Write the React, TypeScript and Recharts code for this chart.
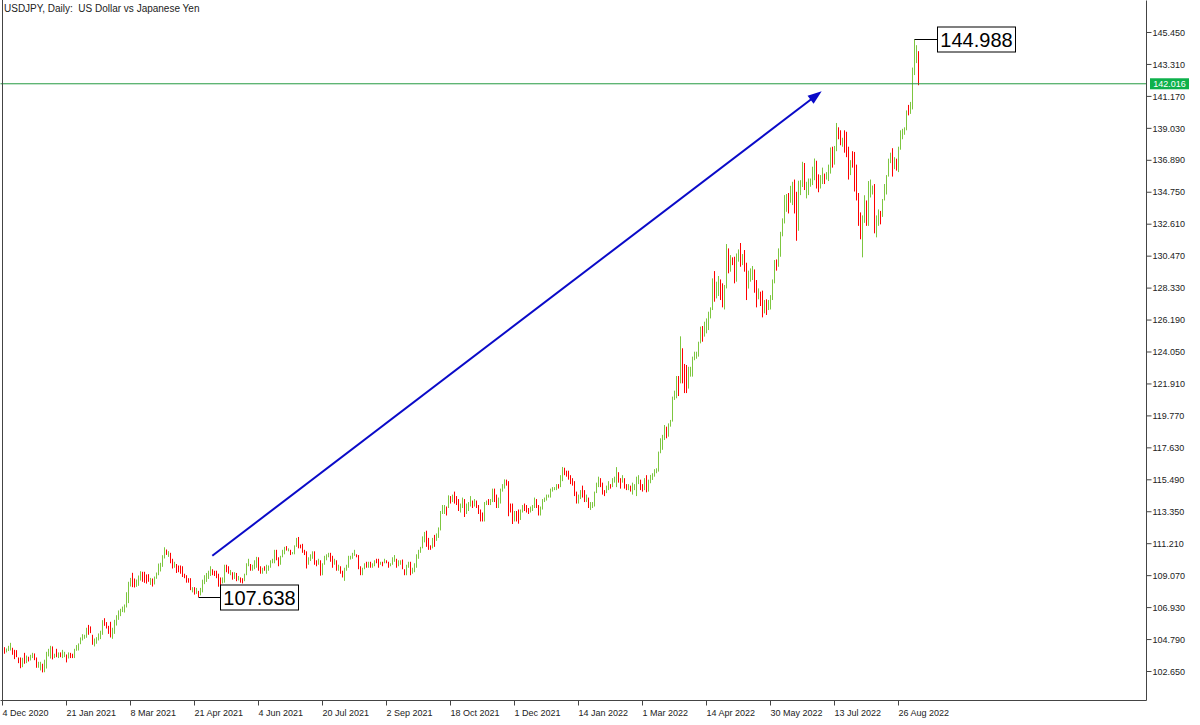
import React from "react";
import {
  ComposedChart,
  Bar,
  Cell,
  XAxis,
  YAxis,
  ReferenceLine,
  ReferenceDot,
} from "recharts";

// one daily bar: [low, high, 1 = closed up / 0 = closed down]
type Day = [number, number, number];

const dec2020: Day[] = [
  [103.82, 104.25, 1], [103.84, 104.28, 0], [103.93, 104.19, 1], [104.02, 104.37, 1], [104.06, 104.57, 1],
  [103.77, 104.24, 0], [103.48, 104.1, 0], [103.61, 104.08, 0], [103.21, 103.59, 0], [102.87, 103.59, 0],
  [102.94, 103.57, 1], [103.17, 103.9, 0], [103.21, 103.72, 1], [103.32, 103.64, 0], [103.39, 103.77, 1],
  [103.55, 103.9, 1], [103.41, 103.86, 0], [102.9, 103.59, 0], [102.9, 103.3, 1],
];
const jan2021: Day[] = [
  [102.72, 103.3, 1], [102.59, 103.17, 0], [102.6, 103.44, 1], [102.85, 103.97, 1], [103.66, 104.17, 1],
  [103.52, 104.37, 1], [103.46, 104.33, 0], [103.55, 103.84, 1], [103.61, 104.17, 0], [103.55, 103.93, 1],
  [103.61, 103.93, 0], [103.55, 104.1, 1], [103.61, 103.97, 1], [103.26, 103.79, 0], [103.52, 103.93, 1],
  [103.55, 103.9, 0], [103.55, 103.84, 0], [103.55, 104.17, 1], [104.04, 104.42, 1], [104.06, 104.53, 1],
];
const feb2021: Day[] = [
  [104.48, 104.93, 1], [104.73, 105.15, 1], [104.84, 105.11, 1], [104.91, 105.58, 1], [105.11, 105.77, 0],
  [105.22, 105.67, 0], [104.44, 105.11, 0], [104.33, 104.86, 1], [104.51, 104.95, 1], [104.73, 105.2, 1],
  [104.82, 105.38, 1], [105.11, 106.09, 1], [105.71, 106.22, 0], [105.53, 105.96, 0], [105.17, 105.71, 0],
  [104.93, 105.98, 0], [104.84, 105.58, 1], [105.17, 106.11, 1], [105.73, 106.42, 1], [106.11, 106.74, 1],
];
const mar2021: Day[] = [
  [106.36, 106.85, 1], [106.63, 107.0, 1], [106.6, 107.14, 1], [106.94, 107.96, 1], [107.23, 108.66, 1],
  [108.34, 108.92, 1], [108.3, 109.26, 0], [108.28, 108.88, 0], [108.32, 108.81, 1], [108.39, 109.08, 1],
  [108.74, 109.37, 1], [108.66, 109.33, 0], [108.59, 109.33, 0], [108.54, 109.15, 0], [108.66, 109.17, 0],
  [108.45, 108.92, 1], [108.34, 108.88, 0], [108.48, 109.01, 1], [108.86, 109.28, 1], [109.1, 109.88, 1],
  [109.35, 109.93, 1], [109.66, 110.44, 1], [110.22, 110.97, 1],
];
const apr2021: Day[] = [
  [110.46, 110.82, 0], [110.33, 110.71, 1], [109.9, 110.6, 0], [109.55, 110.2, 0], [109.6, 110.0, 1],
  [109.25, 109.85, 0], [109.3, 109.75, 0], [109.2, 109.75, 0], [108.98, 109.7, 0], [108.9, 109.2, 0],
  [108.6, 109.1, 0], [108.6, 108.9, 0], [108.1, 108.9, 0], [107.95, 108.3, 1], [107.8, 108.3, 0],
  [107.85, 108.25, 1], [107.638, 108.05, 0], [107.75, 108.25, 1], [107.95, 108.8, 1], [108.5, 109.1, 1],
  [108.65, 109.25, 1], [108.85, 109.4, 1],
];
const may2021: Day[] = [
  [109.05, 109.7, 1], [109.1, 109.5, 0], [109.05, 109.4, 0], [108.9, 109.4, 0], [108.33, 109.2, 0],
  [108.35, 108.95, 0], [108.55, 108.95, 1], [108.6, 109.8, 1], [109.3, 109.8, 0], [109.2, 109.7, 0],
  [109.1, 109.45, 1], [108.8, 109.3, 0], [108.85, 109.3, 1], [108.7, 109.25, 0], [108.75, 109.05, 1],
  [108.6, 108.95, 0], [108.55, 108.9, 0], [108.7, 109.2, 1], [109.1, 109.9, 1], [109.7, 110.2, 1],
  [109.4, 109.85, 0],
];
const jun2021: Day[] = [
  [109.4, 109.8, 1], [109.5, 110.1, 1], [109.6, 110.33, 1], [109.4, 110.3, 0], [109.2, 109.7, 0],
  [109.2, 109.6, 1], [109.4, 109.7, 0], [109.2, 109.8, 1], [109.4, 109.75, 1], [109.6, 110.1, 1],
  [109.9, 110.2, 1], [109.9, 110.8, 1], [110.1, 110.8, 0], [109.7, 110.3, 0], [109.8, 110.4, 1],
  [110.3, 110.8, 1], [110.5, 111.0, 1], [110.75, 111.05, 0], [110.7, 110.9, 1], [110.45, 110.8, 0],
  [110.5, 110.65, 1], [110.5, 111.1, 1],
];
const jul2021: Day[] = [
  [111.0, 111.6, 1], [110.9, 111.66, 0], [110.9, 111.15, 0], [110.6, 111.2, 0], [110.45, 110.8, 0],
  [109.55, 110.7, 0], [109.8, 110.3, 1], [110.05, 110.5, 1], [110.2, 110.7, 1], [109.8, 110.7, 0],
  [109.7, 110.1, 0], [109.8, 110.2, 1], [109.07, 110.1, 0], [109.1, 109.9, 1], [109.8, 110.4, 1],
  [110.1, 110.5, 1], [110.3, 110.6, 1], [110.0, 110.6, 0], [109.6, 110.4, 0], [109.8, 110.2, 1],
  [109.4, 110.1, 0], [109.4, 109.8, 1],
];
const aug2021: Day[] = [
  [109.2, 109.7, 0], [108.95, 109.4, 0], [108.72, 109.6, 1], [109.4, 109.8, 1], [109.6, 110.4, 1],
  [110.15, 110.4, 1], [110.2, 110.6, 1], [110.4, 110.8, 1], [110.3, 110.5, 0], [109.5, 110.45, 0],
  [109.1, 109.7, 0], [109.1, 109.6, 1], [109.5, 109.9, 1], [109.6, 110.0, 0], [109.6, 110.0, 1],
  [109.6, 110.0, 0], [109.6, 109.9, 1], [109.7, 110.1, 1], [109.9, 110.2, 0], [109.6, 110.2, 0],
  [109.8, 110.0, 1], [109.7, 110.0, 0],
];
const sep2021: Day[] = [
  [109.9, 110.2, 1], [109.9, 110.1, 0], [109.6, 110.0, 0], [109.7, 109.9, 1], [109.8, 110.3, 1],
  [110.0, 110.45, 1], [109.6, 110.2, 0], [109.7, 110.1, 1], [109.8, 110.1, 1], [109.5, 110.15, 0],
  [109.1, 109.5, 0], [109.1, 109.8, 1], [109.6, 110.0, 1], [109.1, 110.0, 0], [109.2, 109.6, 1],
  [109.3, 109.9, 1], [109.6, 110.5, 1], [110.2, 110.8, 1], [110.6, 111.0, 1], [110.9, 111.7, 1],
  [111.3, 112.0, 1], [111.0, 112.08, 0],
];
const oct2021: Day[] = [
  [110.8, 111.6, 0], [110.8, 111.1, 0], [110.9, 111.6, 1], [111.0, 111.8, 0], [111.4, 111.9, 1],
  [111.6, 112.3, 1], [112.1, 113.4, 1], [113.2, 113.8, 1], [113.2, 113.8, 1], [113.1, 113.7, 0],
  [113.6, 114.45, 1], [113.9, 114.4, 0], [114.0, 114.5, 1], [113.9, 114.7, 0], [113.8, 114.4, 0],
  [113.4, 114.2, 0], [113.3, 113.9, 1], [113.6, 114.3, 1], [113.0, 114.2, 0], [113.2, 113.9, 1],
  [113.4, 114.0, 1],
];
const nov2021: Day[] = [
  [113.7, 114.4, 1], [113.6, 114.1, 0], [113.7, 114.2, 1], [113.6, 114.1, 0], [113.2, 113.8, 0],
  [112.7, 113.5, 0], [112.7, 113.3, 0], [112.7, 114.0, 1], [113.8, 114.1, 1], [113.8, 114.2, 0],
  [113.8, 114.2, 1], [114.0, 114.9, 1], [114.0, 114.9, 0], [113.6, 114.5, 0], [113.6, 114.3, 1],
  [113.9, 114.9, 1], [114.7, 115.2, 1], [114.9, 115.52, 1], [115.1, 115.5, 0], [113.05, 115.4, 0],
  [113.3, 113.9, 0], [112.53, 113.9, 0],
];
const dec2021: Day[] = [
  [112.7, 113.4, 1], [112.7, 113.4, 0], [112.55, 113.5, 0], [112.8, 113.5, 1], [113.3, 113.8, 1],
  [113.4, 113.9, 0], [113.3, 113.8, 0], [113.2, 113.6, 0], [113.3, 113.7, 1], [113.4, 113.8, 1],
  [113.6, 114.3, 1], [113.6, 114.2, 0], [113.1, 113.8, 0], [113.1, 113.7, 1], [113.5, 114.2, 1],
  [114.0, 114.3, 1], [114.1, 114.5, 1], [114.3, 114.5, 1], [114.3, 114.9, 1], [114.7, 115.0, 1],
  [114.8, 115.0, 1], [114.8, 115.2, 1], [114.9, 115.2, 0],
];
const jan2022: Day[] = [
  [115.0, 115.8, 1], [115.4, 116.35, 1], [115.8, 116.3, 0], [115.7, 116.1, 0], [115.5, 116.1, 0],
  [115.2, 115.8, 0], [115.1, 115.6, 0], [114.4, 115.4, 0], [113.9, 114.7, 0], [113.9, 114.5, 1],
  [114.2, 114.8, 1], [114.3, 115.1, 0], [114.0, 114.8, 0], [114.0, 114.5, 1], [113.6, 114.3, 0],
  [113.47, 114.0, 1], [113.6, 114.0, 1], [113.7, 114.7, 1], [114.6, 115.3, 1], [115.0, 115.7, 1],
  [115.0, 115.6, 0],
];
const feb2022: Day[] = [
  [114.5, 115.3, 0], [114.4, 114.8, 0], [114.6, 115.1, 1], [114.8, 115.4, 1], [114.9, 115.2, 0],
  [115.0, 115.6, 1], [115.3, 115.7, 1], [115.0, 116.34, 1], [115.3, 116.0, 0], [114.9, 115.6, 0],
  [115.3, 115.8, 1], [114.9, 115.6, 0], [114.8, 115.2, 0], [114.8, 115.2, 1], [114.7, 115.1, 0],
  [114.5, 115.3, 1], [114.8, 115.2, 1], [114.4, 115.7, 1], [115.2, 115.8, 1], [114.8, 115.5, 0],
];
const mar2022: Day[] = [
  [114.7, 115.2, 0], [114.8, 115.6, 1], [114.65, 115.8, 0], [114.7, 115.5, 1], [115.26, 115.82, 1],
  [115.48, 115.93, 1], [115.7, 116.2, 1], [115.93, 116.26, 1], [116.04, 117.38, 1], [117.27, 118.27, 1],
  [117.5, 118.5, 1], [118.16, 119.16, 1], [118.27, 119.05, 0], [118.38, 119.27, 1], [119.05, 119.5, 1],
  [119.39, 121.06, 1], [120.84, 121.46, 1], [120.95, 122.44, 1], [121.1, 122.44, 0], [121.95, 125.1, 1],
  [121.95, 124.3, 0], [121.3, 123.25, 0], [121.3, 123.18, 0],
];
const apr2022: Day[] = [
  [121.6, 123.06, 1], [122.4, 123.06, 1], [122.4, 123.74, 1], [123.5, 124.07, 1], [123.6, 124.07, 1],
  [123.74, 124.74, 1], [124.63, 125.75, 1], [124.74, 125.79, 0], [125.08, 126.08, 1], [125.3, 126.3, 1],
  [125.52, 126.75, 1], [126.3, 127.04, 1], [126.86, 128.98, 1], [127.42, 129.47, 0], [127.64, 128.76, 1],
  [127.8, 129.14, 1], [127.53, 128.91, 0], [127.04, 128.65, 0], [126.9, 128.54, 1], [128.31, 131.28, 1],
  [129.32, 130.99, 0],
];
const may2022: Day[] = [
  [129.43, 130.54, 1], [129.87, 130.39, 0], [128.65, 130.43, 0], [128.76, 130.65, 1], [130.1, 130.92, 1],
  [129.76, 131.35, 0], [129.87, 130.61, 1], [129.43, 130.88, 0], [127.53, 130.03, 0], [128.3, 129.5, 1],
  [128.76, 129.65, 1], [128.87, 129.81, 1], [128.02, 129.58, 0], [127.04, 128.87, 0], [127.58, 128.31, 1],
  [127.13, 128.09, 0], [126.37, 128.16, 0], [126.64, 127.53, 1], [126.53, 127.58, 0], [126.86, 127.53, 1],
  [126.9, 127.86, 1], [127.53, 128.91, 1],
];
const jun2022: Day[] = [
  [128.65, 130.21, 1], [129.5, 130.25, 0], [129.76, 130.99, 1], [130.43, 132.1, 1], [131.8, 133.0, 1],
  [132.66, 134.56, 1], [133.44, 134.63, 1], [133.33, 134.7, 0], [134.05, 135.18, 1], [133.89, 135.45, 1],
  [133.33, 135.6, 0], [131.5, 134.78, 0], [132.17, 135.52, 1], [134.56, 135.56, 1], [135.1, 136.79, 1],
  [134.9, 136.71, 0], [134.34, 135.45, 1], [134.56, 135.67, 1], [135.12, 135.67, 1], [135.23, 136.46, 1],
  [135.56, 137.01, 1], [135.0, 136.86, 0],
];
const jul2022: Day[] = [
  [134.75, 135.95, 0], [135.0, 135.9, 1], [135.3, 136.4, 1], [135.3, 136.0, 0], [135.6, 136.1, 1],
  [135.5, 136.6, 1], [136.0, 137.75, 1], [136.4, 137.8, 0], [136.6, 137.85, 1], [137.5, 139.39, 1],
  [138.3, 139.1, 0], [137.9, 138.9, 0], [137.8, 138.4, 1], [137.4, 138.9, 0], [137.1, 138.8, 0],
  [135.6, 137.8, 0], [135.9, 136.9, 1], [136.4, 137.5, 0], [134.8, 137.45, 0], [134.2, 136.6, 0],
  [132.5, 134.7, 0],
];
const aug2022: Day[] = [
  [131.6, 133.4, 0], [130.39, 133.2, 1], [132.7, 134.55, 1], [132.5, 134.2, 0], [132.5, 135.5, 1],
  [134.4, 135.6, 1], [134.6, 135.2, 1], [132.0, 135.3, 0], [131.73, 133.2, 1], [132.5, 133.6, 1],
  [132.6, 133.5, 0], [133.1, 134.3, 1], [134.2, 135.3, 1], [134.6, 135.9, 1], [135.8, 137.0, 1],
  [136.7, 137.4, 1], [135.8, 137.7, 0], [136.3, 137.1, 1], [136.2, 137.0, 0], [136.1, 137.8, 1],
  [137.6, 138.9, 1], [138.3, 139.0, 1], [138.6, 139.1, 1],
];
const sep2022: Day[] = [
  [138.9, 140.23, 1], [139.9, 140.6, 0], [140.0, 140.8, 1], [140.3, 143.1, 1], [142.6, 144.988, 1],
  [143.4, 144.6, 1], [141.92, 144.2, 0],
];

const months = [
  dec2020, jan2021, feb2021, mar2021, apr2021, may2021, jun2021, jul2021, aug2021, sep2021, oct2021,
  nov2021, dec2021, jan2022, feb2022, mar2022, apr2022, may2022, jun2022, jul2022, aug2022, sep2022,
];

const xTickIdx = [0, 32, 64, 96, 128, 160, 192, 224, 256, 288, 320, 352, 384, 416, 448];
const xTickLabels = [
  "4 Dec 2020", "21 Jan 2021", "8 Mar 2021", "21 Apr 2021", "4 Jun 2021", "20 Jul 2021", "2 Sep 2021",
  "18 Oct 2021", "1 Dec 2021", "14 Jan 2022", "1 Mar 2022", "14 Apr 2022", "30 May 2022", "13 Jul 2022",
  "26 Aug 2022",
];
const yTicks = [
  102.65, 104.79, 106.93, 109.07, 111.21, 113.35, 115.49, 117.63, 119.77, 121.91, 124.05, 126.19,
  128.33, 130.47, 132.61, 134.75, 136.89, 139.03, 141.17, 143.31, 145.45,
];

const lastPrice = 142.016;
const callouts = [
  { i: 98, price: 107.638 },
  { i: 456, price: 144.988 },
];
const arrowFrom = { i: 104.9, price: 110.4 };
const arrowTo = { i: 409.6, price: 141.52 };

const bars = months.flat().map((d, i) => ({ i, range: [d[0], d[1]], up: d[2] === 1 }));

const UP = "#7dc640";
const DOWN = "#ff0000";
const ARROW = "#0a0ac8";
const PRICE = "#259b42";
const TAG = "#0db14b";
const AXIS = "#444";
const TEXT = "#222";
const FONT = "'Liberation Sans', Arial, sans-serif";

// 1px wide bar snapped to a whole pixel column
function BarLine(props: any) {
  const { x, y, width, height, fill } = props;
  if (x == null || y == null) return null;
  const col = Math.floor(x + width / 2);
  return <rect x={col} y={y} width={1} height={Math.max(height, 1)} fill={fill} />;
}

function XTick(props: any) {
  const { x, y, payload } = props;
  const k = xTickIdx.indexOf(payload.value);
  return (
    <text x={x} y={y + 8} fontSize={9} fill={TEXT} fontFamily={FONT}>
      {xTickLabels[k]}
    </text>
  );
}

function YTick(props: any) {
  const { x, y, payload } = props;
  return (
    <text x={x} y={y + 3.2} fontSize={9} fill={TEXT} fontFamily={FONT}>
      {Number(payload.value).toFixed(3)}
    </text>
  );
}

function PriceTag(props: any) {
  const vb = props.viewBox || {};
  const x = vb.x + vb.width + 3.5;
  const y = vb.y;
  return (
    <g>
      <rect x={x} y={y - 5.5} width={39} height={11} fill={TAG} />
      <text x={x + 19.5} y={y + 3.2} textAnchor="middle" fontSize={9} fill="#fff" fontFamily={FONT}>
        {lastPrice.toFixed(3)}
      </text>
    </g>
  );
}

function Callout(props: any) {
  const { cx, cy, text } = props;
  const y = Math.round(cy) + 0.5;
  const bx = Math.round(cx) + 22.5;
  return (
    <g>
      <line x1={cx} y1={y} x2={bx} y2={y} stroke="#000" strokeWidth={1} />
      <rect x={bx} y={y - 12.5} width={78} height={25} fill="#fff" stroke="#000" strokeWidth={1} />
      <text x={bx + 39} y={y + 7} textAnchor="middle" fontSize={20} fill="#000" fontFamily={FONT}>
        {text}
      </text>
    </g>
  );
}

function ArrowShape(props: any) {
  const { x1, y1, x2, y2 } = props;
  const dx = x2 - x1;
  const dy = y2 - y1;
  const len = Math.hypot(dx, dy) || 1;
  const ux = dx / len;
  const uy = dy / len;
  const head = 14;
  const half = 5;
  const bx = x2 - ux * head;
  const by = y2 - uy * head;
  const pts = `${x2},${y2} ${bx - uy * half},${by + ux * half} ${bx + uy * half},${by - ux * half}`;
  return (
    <g>
      <line x1={x1} y1={y1} x2={bx + ux * 2} y2={by + uy * 2} stroke={ARROW} strokeWidth={2} />
      <polygon points={pts} fill={ARROW} />
    </g>
  );
}

export default function App() {
  return (
    <div
      style={{
        position: "fixed",
        left: 0,
        top: 0,
        width: 1200,
        height: 725,
        background: "#fff",
        overflow: "hidden",
      }}
    >
      <ComposedChart
        width={1200}
        height={725}
        data={bars}
        margin={{ top: 0.5, right: 0, bottom: 0, left: 0.5 }}
      >
        <XAxis
          dataKey="i"
          type="number"
          domain={[-1, 572]}
          allowDataOverflow
          ticks={xTickIdx}
          interval={0}
          height={24.5}
          tick={<XTick />}
          tickSize={5}
          tickMargin={2}
          axisLine={{ stroke: AXIS }}
          tickLine={{ stroke: AXIS }}
        />
        <YAxis
          orientation="right"
          type="number"
          domain={[100.7076, 147.5933]}
          allowDataOverflow
          ticks={yTicks}
          interval={0}
          width={53.5}
          tick={<YTick />}
          tickSize={5}
          tickMargin={1}
          axisLine={{ stroke: AXIS }}
          tickLine={{ stroke: AXIS }}
        />
        <Bar dataKey="range" barSize={1} isAnimationActive={false} shape={(p: any) => <BarLine {...p} />}>
          {bars.map((b) => (
            <Cell key={b.i} fill={b.up ? UP : DOWN} />
          ))}
        </Bar>
        <ReferenceLine
          y={lastPrice}
          stroke={PRICE}
          strokeWidth={1}
          ifOverflow="visible"
          label={(p: any) => <PriceTag {...p} />}
        />
        <ReferenceLine
          segment={[
            { x: arrowFrom.i, y: arrowFrom.price },
            { x: arrowTo.i, y: arrowTo.price },
          ]}
          ifOverflow="visible"
          shape={(p: any) => <ArrowShape {...p} />}
        />
        {callouts.map((c) => (
          <ReferenceDot
            key={c.i}
            x={c.i}
            y={c.price}
            ifOverflow="visible"
            shape={(p: any) => <Callout {...p} text={c.price.toFixed(3)} />}
          />
        ))}
      </ComposedChart>
      <div
        style={{
          position: "absolute",
          left: 2,
          top: 0,
          width: 1,
          height: 701,
          background: AXIS,
        }}
      />
      <div
        style={{
          position: "absolute",
          left: 4,
          top: 3,
          fontFamily: FONT,
          fontSize: 10,
          color: TEXT,
          whiteSpace: "pre",
          lineHeight: "12px",
        }}
      >
        {"USDJPY, Daily:  US Dollar vs Japanese Yen"}
      </div>
    </div>
  );
}
